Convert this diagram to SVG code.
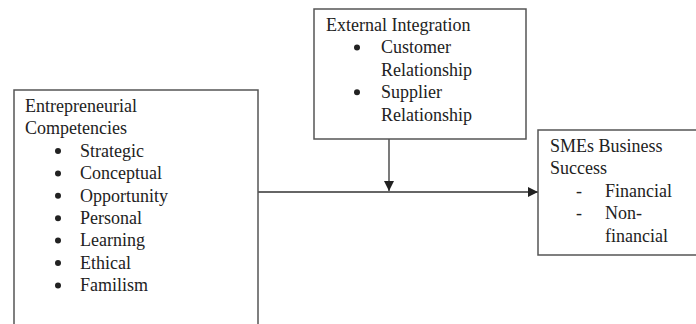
<svg xmlns="http://www.w3.org/2000/svg" width="696" height="324" viewBox="0 0 696 324">
<defs>
<style>
.box{fill:#fff;stroke:#555;stroke-width:1.5}
.t{font-family:"Liberation Serif","Times New Roman",serif;font-size:18px;fill:#222}
.ln{stroke:#333;stroke-width:1.3;fill:none}
.b{fill:#222}
</style>
<marker id="ah" viewBox="0 0 10 10" refX="10" refY="5" markerWidth="10" markerHeight="10" markerUnits="userSpaceOnUse" orient="auto">
<path d="M0,0 L10,5 L0,10 z" fill="#222"/>
</marker>
</defs>
<rect width="696" height="324" fill="#fff"/>
<g id="connectors">
<line class="ln" x1="258" y1="192" x2="538" y2="192" marker-end="url(#ah)"/>
<line class="ln" x1="389" y1="139" x2="389" y2="191" marker-end="url(#ah)"/>
</g>
<g id="entrepreneurial">
<rect class="box" x="14" y="90" width="244" height="250"/>
<text class="t" x="25" y="112">Entrepreneurial</text>
<text class="t" x="25" y="134.4">Competencies</text>
<circle class="b" cx="58" cy="151" r="3"/><text class="t" x="80" y="156.8">Strategic</text>
<circle class="b" cx="58" cy="173.4" r="3"/><text class="t" x="80" y="179.2">Conceptual</text>
<circle class="b" cx="58" cy="195.8" r="3"/><text class="t" x="80" y="201.6">Opportunity</text>
<circle class="b" cx="58" cy="218.2" r="3"/><text class="t" x="80" y="224">Personal</text>
<circle class="b" cx="58" cy="240.6" r="3"/><text class="t" x="80" y="246.4">Learning</text>
<circle class="b" cx="58" cy="263" r="3"/><text class="t" x="80" y="268.8">Ethical</text>
<circle class="b" cx="58" cy="285.4" r="3"/><text class="t" x="80" y="291.2">Familism</text>
</g>
<g id="external">
<rect class="box" x="314" y="9" width="212" height="130"/>
<text class="t" x="326" y="31">External Integration</text>
<circle class="b" cx="357" cy="47.5" r="3"/><text class="t" x="381" y="53.4">Customer</text>
<text class="t" x="381" y="75.8">Relationship</text>
<circle class="b" cx="357" cy="92.3" r="3"/><text class="t" x="381" y="98.2">Supplier</text>
<text class="t" x="381" y="120.6">Relationship</text>
</g>
<g id="success">
<rect class="box" x="538" y="130" width="170" height="125"/>
<text class="t" x="550" y="152">SMEs Business</text>
<text class="t" x="550" y="174.4">Success</text>
<text class="t" x="576" y="196.8">-</text><text class="t" x="605" y="196.8">Financial</text>
<text class="t" x="576" y="219.2">-</text><text class="t" x="605" y="219.2">Non-</text>
<text class="t" x="605" y="241.6">financial</text>
</g>
</svg>
